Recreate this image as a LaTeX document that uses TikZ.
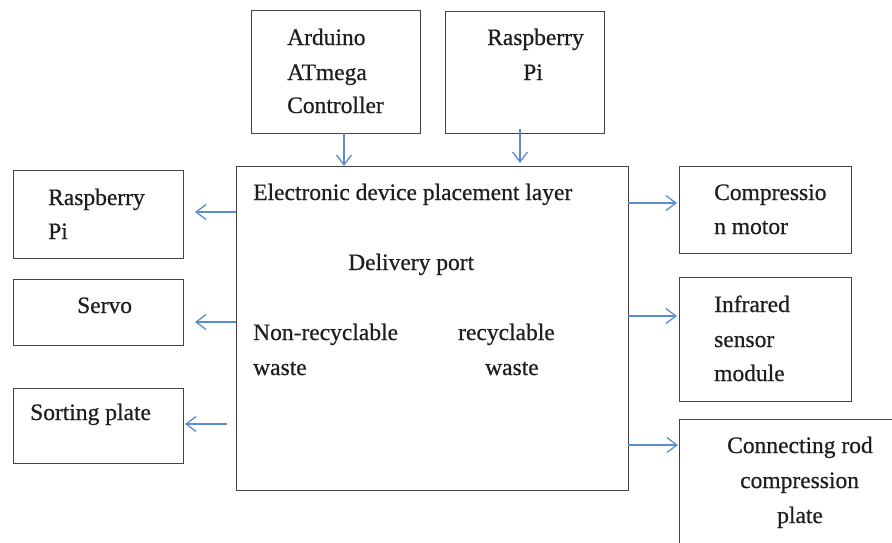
\documentclass[tikz,border=0pt]{standalone}
\usepackage{fontspec}
\setmainfont{Liberation Serif}
\newfontfamily\diagfont{Liberation Serif}[FakeBold=0.6]
\usetikzlibrary{arrows.meta}
\definecolor{arrblue}{HTML}{5B8CCB}
\definecolor{boxgray}{HTML}{444444}
\definecolor{txt}{HTML}{1E1E1E}
\begin{document}
\begin{tikzpicture}[x=1pt,y=-1pt,
  box/.style={draw=boxgray,line width=1.2pt,rectangle,inner sep=0pt,anchor=north west},
  lbl/.style={anchor=base west,inner sep=0pt,text=txt,font=\diagfont\fontsize{23.5}{34}\selectfont},
  arr/.style={draw=arrblue,line width=1.3pt,-{Straight Barb[length=10pt,width=15pt,line width=1.3pt]}}]
\useasboundingbox (0,0) rectangle (892,542);
\clip (0,0) rectangle (892,542);
% boxes
\node[box,minimum width=169pt,minimum height=123pt] (ard) at (251,10) {};
\node[box,minimum width=159pt,minimum height=122pt] (rpt) at (445,11) {};
\node[box,minimum width=392pt,minimum height=324pt] (main) at (236,166) {};
\node[box,minimum width=170pt,minimum height=88pt] (rpl) at (13,170) {};
\node[box,minimum width=170pt,minimum height=66pt] (servo) at (13,279) {};
\node[box,minimum width=170pt,minimum height=75pt] (sort) at (13,388) {};
\node[box,minimum width=172pt,minimum height=87pt] (comp) at (679,166) {};
\node[box,minimum width=172pt,minimum height=124pt] (ir) at (679,277) {};
\node[box,minimum width=230pt,minimum height=140pt] (rod) at (679,419) {};
% texts
\node[lbl] (t1) at (287,45) {Arduino};
\node[lbl] (t2) at (287,80) {ATmega};
\node[lbl] (t3) at (287,113) {Controller};
\node[lbl] (t4) at (487,45) {Raspberry};
\node[lbl] (t5) at (523,80) {Pi};
\node[lbl] (t6) at (48,205) {Raspberry};
\node[lbl] (t7) at (48,239) {Pi};
\node[lbl] (t8) at (77,313) {Servo};
\node[lbl] (t9) at (30,420) {Sorting plate};
\node[lbl] (t10) at (714,200) {Compressio};
\node[lbl] (t11) at (714,234) {n motor};
\node[lbl] (t12) at (714,312) {Infrared};
\node[lbl] (t13) at (714,347) {sensor};
\node[lbl] (t14) at (714,381) {module};
\node[lbl] (t15) at (727,453) {Connecting rod};
\node[lbl] (t16) at (740,488) {compression};
\node[lbl] (t17) at (777,523) {plate};
\node[lbl] (t18) at (253,200) {Electronic device placement layer};
\node[lbl] (t19) at (348,270) {Delivery port};
\node[lbl] (t20) at (253,340) {Non-recyclable};
\node[lbl] (t21) at (253,375) {waste};
\node[lbl] (t22) at (458,340) {recyclable};
\node[lbl] (t23) at (485,375) {waste};
% connector coordinates
\coordinate (a1) at (344,133); \coordinate (b1) at (344,166);
\coordinate (a2) at (520,129); \coordinate (b2) at (520,163);
\coordinate (a3) at (236,212); \coordinate (b3) at (195,212);
\coordinate (a4) at (236,322); \coordinate (b4) at (195,322);
\coordinate (a5) at (227,424); \coordinate (b5) at (185,424);
\coordinate (a6) at (628,203); \coordinate (b6) at (677,203);
\coordinate (a7) at (628,316); \coordinate (b7) at (677,316);
\coordinate (a8) at (628,445); \coordinate (b8) at (678,445);
\draw[arr] (a1) -- (b1);
\draw[arr] (a2) -- (b2);
\draw[arr] (a3) -- (b3);
\draw[arr] (a4) -- (b4);
\draw[arr] (a5) -- (b5);
\draw[arr] (a6) -- (b6);
\draw[arr] (a7) -- (b7);
\draw[arr] (a8) -- (b8);
\end{tikzpicture}
\end{document}
